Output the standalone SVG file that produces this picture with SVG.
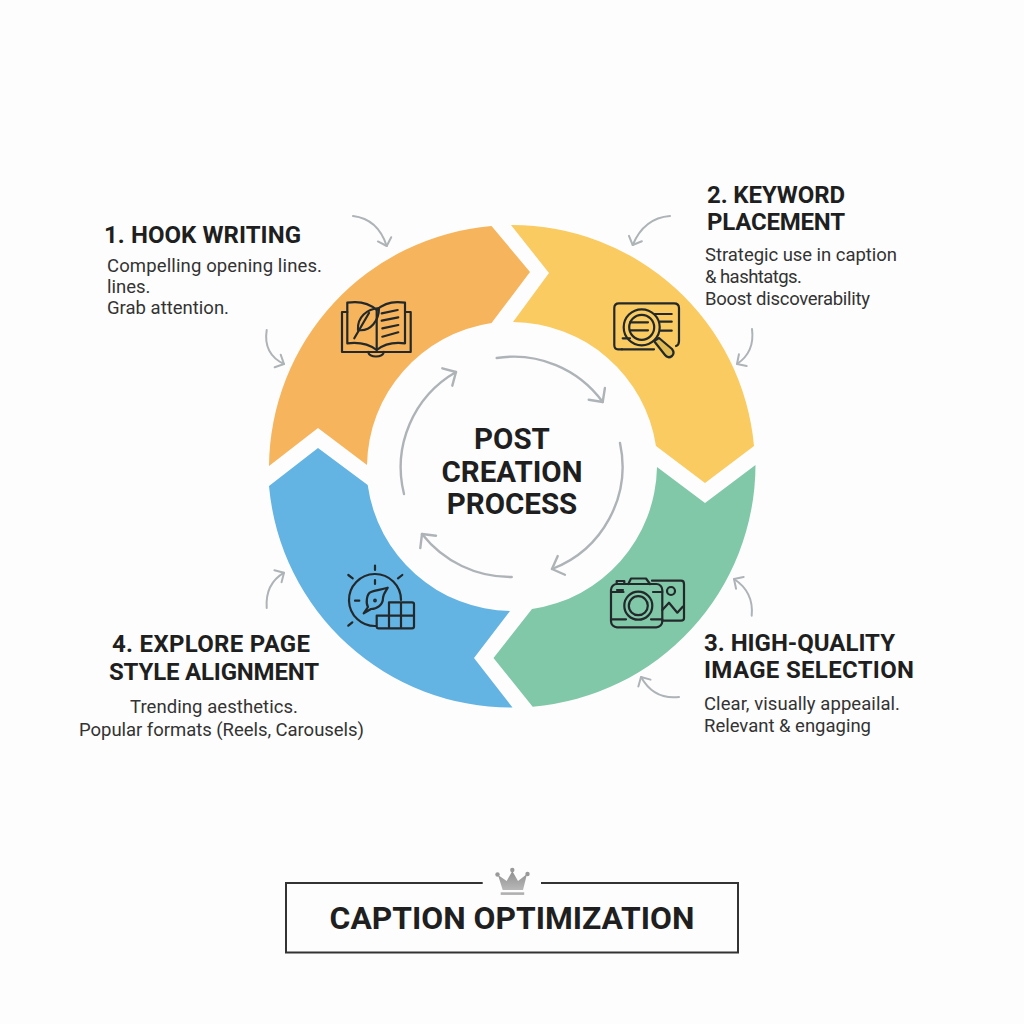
<svg xmlns="http://www.w3.org/2000/svg" width="1024" height="1024" viewBox="0 0 1024 1024">
<style>
.h{font-family:Roboto,"Liberation Sans",sans-serif;font-weight:700;fill:#1f1f1f}
.hs{font-size:24px}
.b{font-family:Roboto,"Liberation Sans",sans-serif;font-weight:400;font-size:18.5px;fill:#333}
.c{font-size:29.5px;text-anchor:middle}
.i{fill:none;stroke:#23282a;stroke-width:2.2;stroke-linecap:round;stroke-linejoin:round}
.big{fill:none;stroke:#aeb3b7;stroke-width:2.4;stroke-linecap:round;marker-end:url(#ah)}
.sm{fill:none;stroke:#aeb3b7;stroke-width:2;stroke-linecap:round;marker-end:url(#as)}
</style>
<defs>
<marker id="ah" markerUnits="userSpaceOnUse" markerWidth="24" markerHeight="24" refX="12" refY="12" orient="auto" overflow="visible"><path d="M2,2 L12,12 L2,22" fill="none" stroke="#aeb3b7" stroke-width="2.4" stroke-linecap="round" stroke-linejoin="round"/></marker>
<marker id="as" markerUnits="userSpaceOnUse" markerWidth="18" markerHeight="18" refX="9" refY="9" orient="auto" overflow="visible"><path d="M2,2 L9,9 L2,16" fill="none" stroke="#aeb3b7" stroke-width="2" stroke-linecap="round" stroke-linejoin="round"/></marker>
<linearGradient id="cr" x1="0" y1="0" x2="0" y2="1"><stop offset="0" stop-color="#8f8f8f"/><stop offset="1" stop-color="#b8b8b8"/></linearGradient>
</defs>
<rect width="1024" height="1024" fill="#fdfdfd"/>

<g id="connectors">
<path class="big" d="M496.7,358 A110,110 0 0 1 602.7,402"/>
<path class="big" d="M620,443 A110,110 0 0 1 552,569"/>
<path class="big" d="M511.7,577 A112,112 0 0 1 422,534"/>
<path class="big" d="M404,494 A110,110 0 0 1 456,372"/>
<path class="sm" d="M353,216 Q378,219 386.7,246"/>
<path class="sm" d="M266.7,330 Q263,354 284,364"/>
<path class="sm" d="M670,216 Q644,218 632.7,245"/>
<path class="sm" d="M752,329 Q755,352 737,364"/>
<path class="sm" d="M751.7,615.7 Q754,592 734,579"/>
<path class="sm" d="M679,697 Q654,700 641,677"/>
<path class="sm" d="M266.7,608 Q265,584 284,572.7"/>
</g>

<g id="node-1">
<path fill="#f6b45c" d="M269,466 A243,243 0 0 1 491.5,226 L530,272 L491.5,323 A146,146 0 0 0 367,465 L318,428 Z"/>
<g class="i">
<path d="M347.3,312H342V352H410.7V312H405"/>
<path d="M347.3,302.7C358,301 369,303 376.7,310C384,303 395,301 405,302.7V343.3C395,342 384,344 376.7,350C369,344 358,342 347.3,343.3Z"/>
<path d="M376.7,310V350"/>
<path d="M368,352C370,358 382,358 384,352"/>
<path d="M354.3,338.3L369,313"/>
<path d="M358,330C357,317 367,309 379,308C379,320 371,332 358,330Z"/>
<path d="M381.7,313.3L397.7,310M381.7,320.7L398.3,317.3M382.3,328.3L398.3,325M382.3,336.7L398.3,332.3"/>
</g>
<text class="h hs" x="104" y="243" textLength="197">1. HOOK WRITING</text>
<text class="b" x="107" y="272" textLength="215">Compelling opening lines.</text>
<text class="b" x="107" y="293">lines.</text>
<text class="b" x="107" y="314" textLength="122">Grab attention.</text>
</g>

<g id="node-2">
<path fill="#f9cb60" d="M511,225 A243,243 0 0 1 754,446 L705,483 L656,446 A146,146 0 0 0 513,322 L549,273 Z"/>
<g class="i">
<path d="M622,349.3H618Q614.3,349.3 614.3,345V308Q614.3,303.3 619,303.3H674Q679,303.3 679,308V341Q679,345 676,346"/>
<path d="M622.7,338.3H630M622,349.3H654"/>
<circle cx="641.7" cy="327.3" r="18"/>
<circle cx="641.7" cy="327.3" r="12.5"/>
<path d="M630,322.3H648M630,330.3H648M655,314H671.7M660,321.7H671.7M660.7,330.7H671.7"/>
<path d="M654,341L665,355Q668,359 672,356Q675,353 672,349L659,338Z" fill="#e0bb52"/>
</g>
<text class="h hs" x="707" y="203" textLength="138">2. KEYWORD</text>
<text class="h hs" x="707" y="230" textLength="138">PLACEMENT</text>
<text class="b" x="705" y="261" textLength="192">Strategic use in caption</text>
<text class="b" x="705" y="283" textLength="97">&amp; hashtatgs.</text>
<text class="b" x="705" y="305" textLength="165">Boost discoverability</text>
</g>

<g id="node-3">
<path fill="#80c8a8" d="M657,467 L705,503 L755.5,465 A243,243 0 0 1 532.7,706.7 L493.5,658 L532,609 A146,146 0 0 0 657,467 Z"/>
<g class="i">
<rect x="611" y="584" width="51.3" height="43.3" rx="6"/>
<path d="M628.3,584L631,578.5H646L650,584M616.7,584V581H624.3V584"/>
<path d="M611,592H623.5M653,592H662.3M611,619.3H626M651,619.3H662.3M617,590H623"/>
<circle cx="638.3" cy="605.7" r="14"/>
<circle cx="638.3" cy="605.7" r="9.5"/>
<path d="M652,580.7H681Q684,580.7 684,584V618Q684,620.7 681,620.7H662.3"/>
<circle cx="671" cy="591" r="4"/>
<path d="M662.3,610L669,602.7L677.3,612.7L682.7,606.7"/>
</g>
<text class="h hs" x="704" y="651" textLength="191">3. HIGH-QUALITY</text>
<text class="h hs" x="704" y="678" textLength="210">IMAGE SELECTION</text>
<text class="b" x="704" y="710" textLength="196">Clear, visually appeailal.</text>
<text class="b" x="704" y="732" textLength="167">Relevant &amp; engaging</text>
</g>

<g id="node-4">
<path fill="#63b3e3" d="M269,486 L318,448 L367.7,485 A146,146 0 0 0 510,611 L474,658 L512.5,707.5 A243,243 0 0 1 269,486 Z"/>
<g class="i">
<path d="M376,626A26,26 0 1 1 401,600"/>
<path d="M375,565.7V570M348.3,575L352.7,578.3M402.3,575L398,578.3M348.3,625.7L352.3,622.3M375,580V584M355,600.7H359.3"/>
<path d="M387.7,587.7C380,590 376,590 371,592C366,594 366,604 368,607L363.7,613.3L371,609C377,609 383,605 383,598C383,594 386,591 387.7,587.7Z"/>
<circle cx="375" cy="600.5" r="0.8"/>
<path d="M376.7,615.7H389V602.3H412Q414,602.3 414,604V626.5Q414,628.3 412,628.3H378.5Q376.7,628.3 376.7,626.5ZM389,615.7H414M389,615.7V628.3M401,602.3V628.3"/>
</g>
<text class="h hs" x="112" y="652" textLength="198">4. EXPLORE PAGE</text>
<text class="h hs" x="109" y="680" textLength="210">STYLE ALIGNMENT</text>
<text class="b" x="130" y="713" textLength="168">Trending aesthetics.</text>
<text class="b" x="79" y="736" textLength="285">Popular formats (Reels, Carousels)</text>
</g>

<g id="center">
<text class="h c" x="512" y="449">POST</text>
<text class="h c" x="512" y="482">CREATION</text>
<text class="h c" x="512" y="514">PROCESS</text>
</g>

<g id="caption">
<path d="M482.7,883H286V952.5H738V883H541" fill="none" stroke="#333" stroke-width="2"/>
<path fill="url(#cr)" d="M498,875L502.7,890H523L527,874L518,881L512.3,871L506.7,881Z"/>
<circle cx="497.5" cy="874.5" r="2.2" fill="#999"/><circle cx="512.3" cy="870" r="2.2" fill="#999"/><circle cx="527.5" cy="874" r="2.2" fill="#999"/>
<rect x="500.7" y="892.3" width="23.5" height="2.6" fill="#b0b0b0"/>
<text class="h" x="512" y="929" font-size="31.8" text-anchor="middle">CAPTION OPTIMIZATION</text>
</g>
</svg>
